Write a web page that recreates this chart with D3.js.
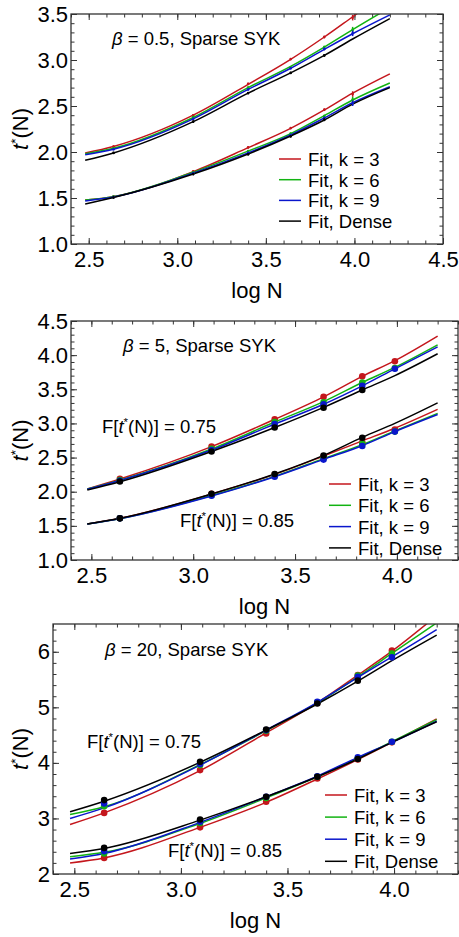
<!DOCTYPE html>
<html>
<head>
<meta charset="utf-8">
<script src="https://cdn.jsdelivr.net/npm/d3@7"></script>
<style>
  body { margin: 0; background: #fff; }
  text { font-family: "Liberation Sans", Arial, sans-serif; }
</style>
</head>
<body>
<div id="chart"></div>
<script>
// x positions (log N) of the fitted curves and of the measured points
const fitX = [2.48, 2.64, 3.09, 3.40, 3.64, 3.83, 3.99, 4.20];
const dataX = [2.64, 3.09, 3.40, 3.64, 3.83, 3.99];
const denseX = [2.64, 3.09, 3.40, 3.64, 3.83];
const seriesNames = ["Fit, k = 3", "Fit, k = 6", "Fit, k = 9", "Fit, Dense"];
const seriesColors = ["#c4161c", "#12b312", "#0a16cc", "#000000"];

// beta = 0.5  (order: k=3, k=6, k=9, dense)
const b05FitHi = [
  [1.99, 2.06, 2.40, 2.735, 3.007, 3.25, 3.47, 3.76],
  [1.98, 2.04, 2.375, 2.70, 2.93, 3.14, 3.33, 3.57],
  [1.97, 2.03, 2.36, 2.68, 2.91, 3.116, 3.285, 3.49],
  [1.91, 1.99, 2.33, 2.64, 2.86, 3.05, 3.228, 3.45]
];
const b05FitLo = [
  [1.478, 1.515, 1.786, 2.047, 2.257, 2.457, 2.64, 2.85],
  [1.478, 1.515, 1.78, 2.01, 2.20, 2.395, 2.565, 2.75],
  [1.467, 1.51, 1.77, 1.99, 2.185, 2.37, 2.535, 2.71],
  [1.435, 1.505, 1.76, 1.978, 2.174, 2.348, 2.52, 2.70]
];
const b05PtsHi = [
  [2.06, 2.40, 2.74, 3.01, 3.25, 3.46],
  [2.04, 2.38, 2.70, 2.92, 3.14, 3.33],
  [2.03, 2.36, 2.68, 2.91, 3.12, 3.29],
  [1.99, 2.33, 2.64, 2.86, 3.05]
];
const b05PtsLo = [
  [1.515, 1.79, 2.05, 2.26, 2.46, 2.63],
  [1.515, 1.78, 2.01, 2.20, 2.39, 2.57],
  [1.51, 1.77, 1.99, 2.185, 2.37, 2.53],
  [1.505, 1.76, 1.975, 2.17, 2.35]
];
const b05Err = [0.012, 0.012, 0.012, 0.012, 0.015, 0.03];

// beta = 5
const b5FitHi = [
  [2.04, 2.186, 2.66, 3.06, 3.39, 3.69, 3.92, 4.28],
  [2.04, 2.17, 2.625, 3.02, 3.32, 3.60, 3.82, 4.15],
  [2.035, 2.165, 2.61, 2.99, 3.28, 3.55, 3.80, 4.12],
  [2.025, 2.147, 2.59, 2.94, 3.235, 3.49, 3.70, 4.02]
];
const b5FitLo = [
  [1.527, 1.61, 1.966, 2.254, 2.523, 2.745, 2.93, 3.206],
  [1.527, 1.605, 1.945, 2.225, 2.485, 2.69, 2.89, 3.147],
  [1.527, 1.605, 1.937, 2.22, 2.474, 2.674, 2.88, 3.13],
  [1.527, 1.61, 1.966, 2.259, 2.532, 2.796, 3.0, 3.30]
];
const b5PtsHi = [
  [2.19, 2.66, 3.06, 3.39, 3.69, 3.91],
  [2.17, 2.63, 3.02, 3.31, 3.60, 3.81],
  [2.16, 2.61, 2.99, 3.28, 3.55, 3.80],
  [2.15, 2.59, 2.94, 3.23, 3.49]
];
const b5PtsLo = [
  [1.61, 1.97, 2.25, 2.52, 2.72, 2.91],
  [1.61, 1.95, 2.23, 2.49, 2.70, 2.88],
  [1.61, 1.94, 2.22, 2.47, 2.67, 2.88],
  [1.61, 1.97, 2.26, 2.53, 2.79]
];

// beta = 20
const b20FitHi = [
  [2.89, 3.10, 3.86, 4.54, 5.08, 5.58, 6.01, 6.65],
  [3.07, 3.21, 3.97, 4.58, 5.08, 5.55, 5.97, 6.52],
  [3.00, 3.19, 3.96, 4.59, 5.09, 5.54, 5.91, 6.40],
  [3.12, 3.31, 4.01, 4.59, 5.06, 5.47, 5.84, 6.30]
];
const b20FitLo = [
  [2.20, 2.29, 2.84, 3.29, 3.71, 4.06, 4.37, 4.79],
  [2.31, 2.39, 2.91, 3.37, 3.75, 4.08, 4.38, 4.78],
  [2.27, 2.37, 2.93, 3.39, 3.76, 4.10, 4.37, 4.75],
  [2.37, 2.46, 2.97, 3.39, 3.75, 4.07, 4.37, 4.74]
];
const b20PtsHi = [
  [3.10, 3.87, 4.53, 5.08, 5.58, 6.02],
  [3.22, 3.96, 4.58, 5.09, 5.57, 5.97],
  [3.27, 3.98, 4.59, 5.10, 5.55, 5.90],
  [3.33, 4.02, 4.60, 5.07, 5.48]
];
const b20PtsLo = [
  [2.29, 2.84, 3.30, 3.72, 4.06, 4.37],
  [2.37, 2.92, 3.37, 3.75, 4.08, 4.38],
  [2.41, 2.94, 3.39, 3.76, 4.10, 4.38],
  [2.47, 2.98, 3.39, 3.75, 4.07]
];

const svg = d3.select("#chart").append("svg")
    .attr("width", 459)
    .attr("height", 937);

function tspanT(sel, size){
    // italic t with superscript star
    sel.append("tspan").attr("font-style", "italic").text("t");
    sel.append("tspan").attr("font-size", size * 0.62).attr("dy", -size * 0.38).text("*");
    sel.append("tspan").attr("dy", size * 0.38).text("(N)");
}

function drawPanel(p, idx){
    const x = d3.scaleLinear().domain(p.xDomain).range([p.left, p.right]);
    const y = d3.scaleLinear().domain(p.yDomain).range([p.bottom, p.top]);
    const g = svg.append("g");

    g.append("clipPath").attr("id", "clip" + idx)
        .append("rect")
        .attr("x", p.left).attr("y", p.top)
        .attr("width", p.right - p.left).attr("height", p.bottom - p.top);

    // axes: major and minor ticks on all four sides, pointing inwards
    const xMinor = d3.range(Math.ceil(p.xDomain[0] * 10), Math.floor(p.xDomain[1] * 10 + 1e-6) + 1).map(d => d / 10);
    const yMinor = d3.range(Math.ceil(p.yDomain[0] / p.yMinorStep - 1e-6), Math.floor(p.yDomain[1] / p.yMinorStep + 1e-6) + 1).map(d => +(d * p.yMinorStep).toFixed(2));
    const xMajor = p.xTicks, yMajor = p.yTicks;

    const addAxis = (axis, tf) => {
        const a = g.append("g").attr("transform", tf).call(axis);
        a.select(".domain").remove();
        a.selectAll("line").attr("stroke", "#333").attr("stroke-width", 1);
        a.selectAll("text").attr("font-family", "Liberation Sans, Arial, sans-serif").attr("font-size", 22).attr("fill", "#000");
        return a;
    };

    addAxis(d3.axisBottom(x).tickValues(xMinor).tickSizeInner(-3.5).tickSizeOuter(0).tickFormat(""), `translate(0,${p.bottom})`);
    addAxis(d3.axisBottom(x).tickValues(xMajor).tickSizeInner(-6).tickSizeOuter(0).tickPadding(7).tickFormat(d3.format(".1f")), `translate(0,${p.bottom})`);
    addAxis(d3.axisTop(x).tickValues(xMinor).tickSizeInner(-3.5).tickSizeOuter(0).tickFormat(""), `translate(0,${p.top})`);
    addAxis(d3.axisTop(x).tickValues(xMajor).tickSizeInner(-6).tickSizeOuter(0).tickFormat(""), `translate(0,${p.top})`);
    addAxis(d3.axisLeft(y).tickValues(yMinor).tickSizeInner(-3.5).tickSizeOuter(0).tickFormat(""), `translate(${p.left},0)`);
    addAxis(d3.axisLeft(y).tickValues(yMajor).tickSizeInner(-6).tickSizeOuter(0).tickPadding(3).tickFormat(d3.format(p.yFormat)), `translate(${p.left},0)`);
    addAxis(d3.axisRight(y).tickValues(yMinor).tickSizeInner(-3.5).tickSizeOuter(0).tickFormat(""), `translate(${p.right},0)`);
    addAxis(d3.axisRight(y).tickValues(yMajor).tickSizeInner(-6).tickSizeOuter(0).tickFormat(""), `translate(${p.right},0)`);

    const line = d3.line()
        .x((d, i) => x(fitX[i]))
        .y(d => y(d))
        .curve(d3.curveMonotoneX);

    const plot = g.append("g").attr("clip-path", `url(#clip${idx})`);
    [p.fitHi, p.fitLo].forEach(group => {
        group.forEach((vals, s) => {
            plot.append("path")
                .attr("d", line(vals))
                .attr("fill", "none")
                .attr("stroke", seriesColors[s])
                .attr("stroke-width", 1.5);
        });
    });

    [p.ptsHi, p.ptsLo].forEach(group => {
        group.forEach((vals, s) => {
            const xs = s === 3 ? denseX : dataX;
            const pts = vals.map((v, i) => ({x: xs[i], y: v, e: p.err ? p.err[i] : 0}));
            if(p.err){
                plot.selectAll(null).data(pts).enter().append("line")
                    .attr("x1", d => x(d.x)).attr("x2", d => x(d.x))
                    .attr("y1", d => y(d.y - d.e)).attr("y2", d => y(d.y + d.e))
                    .attr("stroke", seriesColors[s]).attr("stroke-width", 1.5);
            }
            plot.selectAll(null).data(pts).enter().append("circle")
                .attr("cx", d => x(d.x)).attr("cy", d => y(d.y))
                .attr("r", p.dotR)
                .attr("fill", seriesColors[s]);
        });
    });

    // frame
    g.append("rect")
        .attr("x", p.left).attr("y", p.top)
        .attr("width", p.right - p.left).attr("height", p.bottom - p.top)
        .attr("fill", "none").attr("stroke", "#333").attr("stroke-width", 1.3);

    // axis titles
    g.append("text")
        .attr("x", (p.left + p.right) / 2).attr("y", p.bottom + 54)
        .attr("text-anchor", "middle").attr("font-size", 22)
        .text("log N");
    const yl = g.append("text")
        .attr("transform", `translate(28,${(p.top + p.bottom) / 2}) rotate(-90)`)
        .attr("text-anchor", "middle").attr("font-size", 22);
    tspanT(yl, 22);

    // panel title
    const t = g.append("text").attr("x", p.title[0]).attr("y", p.title[1]).attr("font-size", 18.5);
    t.append("tspan").attr("font-style", "italic").text("β");
    t.append("tspan").text(p.title[2]);

    // F labels
    (p.fLabels || []).forEach(f => {
        const ft = g.append("text").attr("x", f[0]).attr("y", f[1]).attr("font-size", 18.5);
        ft.append("tspan").text("F[");
        tspanT(ft, 18.5);
        ft.append("tspan").text("] = " + f[2]);
    });

    // legend
    const lg = g.append("g");
    seriesNames.forEach((name, s) => {
        const ly = p.legend[1] + s * p.legend[2];
        lg.append("line")
            .attr("x1", p.legend[0]).attr("x2", p.legend[0] + 22)
            .attr("y1", ly - 7).attr("y2", ly - 7)
            .attr("stroke", seriesColors[s]).attr("stroke-width", 1.5);
        lg.append("text")
            .attr("x", p.legend[0] + 29).attr("y", ly)
            .attr("font-size", 18.5)
            .text(name);
    });
}

drawPanel({
    left: 71, right: 443, top: 14, bottom: 244,
    xDomain: [2.4, 4.5], yDomain: [1.0, 3.5],
    xTicks: [2.5, 3.0, 3.5, 4.0, 4.5], yTicks: [1.0, 1.5, 2.0, 2.5, 3.0, 3.5],
    yMinorStep: 0.1, yFormat: ".1f",
    fitHi: b05FitHi, fitLo: b05FitLo, ptsHi: b05PtsHi, ptsLo: b05PtsLo, err: b05Err, dotR: 1.3,
    title: [112, 45, " = 0.5, Sparse SYK"],
    legend: [279, 166, 20.7]
}, 1);

drawPanel({
    left: 71, right: 458, top: 321, bottom: 560,
    xDomain: [2.4, 4.3], yDomain: [1.0, 4.5],
    xTicks: [2.5, 3.0, 3.5, 4.0], yTicks: [1.0, 1.5, 2.0, 2.5, 3.0, 3.5, 4.0, 4.5],
    yMinorStep: 0.1, yFormat: ".1f",
    fitHi: b5FitHi, fitLo: b5FitLo, ptsHi: b5PtsHi, ptsLo: b5PtsLo, dotR: 3.3,
    title: [123, 352, " = 5, Sparse SYK"],
    fLabels: [[102, 433, "0.75"], [180, 527, "0.85"]],
    legend: [329, 491, 21.3]
}, 2);

drawPanel({
    left: 53, right: 458, top: 624, bottom: 874,
    xDomain: [2.4, 4.3], yDomain: [2, 6.5],
    xTicks: [2.5, 3.0, 3.5, 4.0], yTicks: [2, 3, 4, 5, 6],
    yMinorStep: 0.2, yFormat: "d",
    fitHi: b20FitHi, fitLo: b20FitLo, ptsHi: b20PtsHi, ptsLo: b20PtsLo, dotR: 3.3,
    title: [105, 656, " = 20, Sparse SYK"],
    fLabels: [[87, 748, "0.75"], [168, 857, "0.85"]],
    legend: [325, 802, 22.1]
}, 3);
</script>
</body>
</html>
